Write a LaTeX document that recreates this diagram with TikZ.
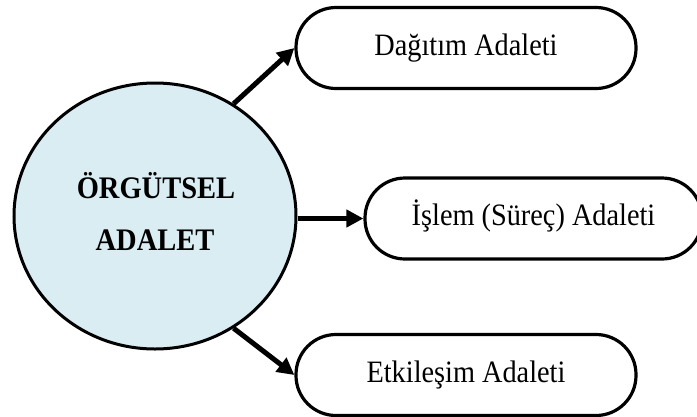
\documentclass[tikz,border=0pt]{standalone}
\usepackage{fontspec}
\setmainfont{Liberation Serif}
\usetikzlibrary{shapes.geometric,arrows.meta}
\definecolor{lightblue}{HTML}{DAEDF3}
\newcommand{\tallt}[1]{\scalebox{1}[1.1]{#1}}
\tikzset{
  mainell/.style={ellipse, draw, line width=3pt, fill=lightblue, minimum width=282pt, minimum height=266pt, inner sep=0pt},
  maintext/.style={font=\fontsize{28.5}{34}\selectfont\bfseries, anchor=base, inner sep=0pt},
  pill/.style={rectangle, rounded corners=40pt, draw, line width=3.2pt, fill=white, minimum height=81pt,
    font=\fontsize{28.3}{34}\selectfont, text height=20pt, text depth=6pt},
  thickarrow/.style={line width=5pt, -{Triangle[length=17pt,width=17pt]}}
}
\begin{document}
\begin{tikzpicture}[x=1pt,y=-1pt]
\useasboundingbox (0,0) rectangle (697,416);
\node[mainell] (c) at (155,216) {};
\node[maintext] (t1) at (156,198) {\tallt{ÖRGÜTSEL}};
\node[maintext] (t2) at (155,250) {\tallt{ADALET}};
\node[pill, minimum width=340pt] (d) at (466,48) {\tallt{Dağıtım Adaleti}};
\node[pill, minimum width=337pt] (i) at (533.5,218.5) {\tallt{İşlem (Süreç) Adaleti}};
\node[pill, minimum width=340pt] (e) at (466,375) {\tallt{Etkileşim Adaleti}};
\draw[thickarrow] (c.55) -- (d.west);
\draw[thickarrow] (c.east |- i.west) -- (i.west);
\draw[thickarrow] (c.-55) -- (e.west);
\end{tikzpicture}
\end{document}
